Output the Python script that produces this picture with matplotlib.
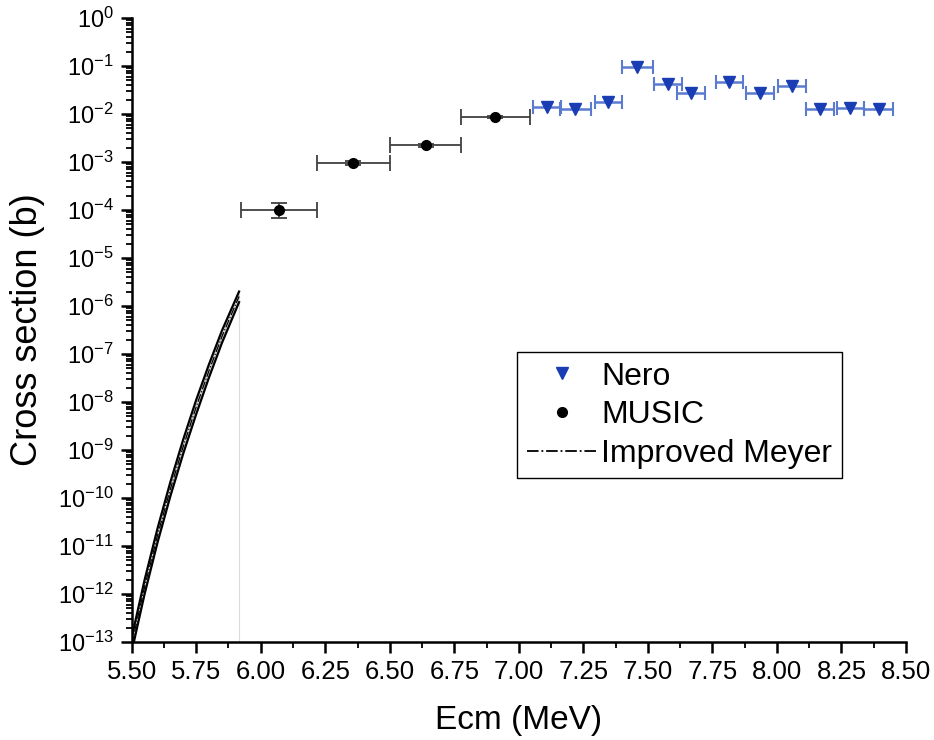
import matplotlib
matplotlib.use("Agg")
import matplotlib.pyplot as plt
from matplotlib.lines import Line2D
from matplotlib.ticker import LogLocator, MultipleLocator, FixedLocator, NullFormatter, LogFormatterMathtext

plt.rcParams['font.family'] = ['Liberation Sans', 'DejaVu Sans']
plt.rcParams['mathtext.fontset'] = 'custom'
plt.rcParams['mathtext.rm'] = 'Liberation Sans'
plt.rcParams['mathtext.it'] = 'Liberation Sans:italic'
plt.rcParams['mathtext.bf'] = 'Liberation Sans:bold'

# Nero measurements (down triangles)
nero_e = [7.108, 7.218, 7.347, 7.459, 7.578, 7.667, 7.816, 7.935, 8.058, 8.168, 8.284, 8.394]
nero_ex = [0.055, 0.060, 0.052, 0.060, 0.055, 0.055, 0.051, 0.054, 0.053, 0.055, 0.052, 0.056]
nero_sigma = [0.0141, 0.0126, 0.0180, 0.093, 0.0416, 0.0270, 0.047, 0.0270, 0.039, 0.0126, 0.0131, 0.0126]

# MUSIC measurements (circles)
music_e = [6.071, 6.359, 6.639, 6.908]
music_ex = [0.147, 0.141, 0.137, 0.134]
music_sigma = [1.0e-4, 9.5e-4, 2.24e-3, 8.5e-3]
music_err_lo = [3.2e-5, 1.0e-4, 1.5e-4, 4.0e-4]
music_err_hi = [4.0e-5, 1.0e-4, 1.5e-4, 4.0e-4]

# Improved Meyer calculation with its uncertainty band
meyer_e = [5.50, 5.55, 5.60, 5.65, 5.70, 5.75, 5.80, 5.85, 5.916]
meyer_sigma = [8.9e-14, 1.41e-12, 1.66e-11, 1.55e-10, 1.20e-9, 7.94e-9, 4.57e-8, 2.34e-7, 1.58e-6]
meyer_upper = [1.25e-13, 1.97e-12, 2.32e-11, 2.17e-10, 1.68e-9, 1.11e-8, 6.2e-8, 3.1e-7, 2.0e-6]
meyer_lower = [6.3e-14, 1.00e-12, 1.18e-11, 1.10e-10, 8.5e-10, 5.6e-9, 3.3e-8, 1.72e-7, 1.2e-6]

x_ticks = [5.50, 5.75, 6.00, 6.25, 6.50, 6.75, 7.00, 7.25, 7.50, 7.75, 8.00, 8.25, 8.50]
x_tick_labels = ["5.50", "5.75", "6.00", "6.25", "6.50", "6.75", "7.00", "7.25",
                 "7.50", "7.75", "8.00", "8.25", "8.50"]

nero_color = '#1a3db3'
nero_err_color = '#5a7bd0'

fig = plt.figure(figsize=(9.34, 7.40), dpi=100)
ax = fig.add_axes([0.141, 0.1324, 0.829, 0.8433])

# drop line marking the end of the calculation
ax.plot([meyer_e[-1], meyer_e[-1]], [1e-13, meyer_upper[-1]], color='#dcdcdc', lw=0.8, zorder=1)

ax.fill_between(meyer_e, meyer_lower, meyer_upper, color='#d4d4d4', lw=0, zorder=2)
ax.plot(meyer_e, meyer_upper, color='black', lw=1.6, zorder=3)
ax.plot(meyer_e, meyer_lower, color='black', lw=1.6, zorder=3)
ax.plot(meyer_e, meyer_sigma, color='black', lw=0.9, ls='-.', zorder=4)

ax.errorbar(nero_e, nero_sigma, xerr=nero_ex, fmt='v', color=nero_color, ms=8,
            ecolor=nero_err_color, elinewidth=1.8, capsize=5, capthick=1.5, zorder=5)
ax.errorbar(music_e, music_sigma, xerr=music_ex, yerr=[music_err_lo, music_err_hi], fmt='o',
            color='black', ms=7, ecolor='#404040', elinewidth=1.3, capsize=5.5, capthick=1.3,
            zorder=5)

ax.set_yscale('log')
ax.set_xlim(5.5, 8.5)
ax.set_ylim(1e-13, 1.0)

ax.xaxis.set_major_locator(FixedLocator(x_ticks))
ax.set_xticklabels(x_tick_labels)
ax.xaxis.set_minor_locator(MultipleLocator(0.125))
ax.yaxis.set_major_locator(LogLocator(base=10, numticks=20))
ax.yaxis.set_major_formatter(LogFormatterMathtext())
ax.yaxis.set_minor_locator(LogLocator(base=10, subs=range(2, 10), numticks=200))
ax.yaxis.set_minor_formatter(NullFormatter())

for s in ['top', 'right']:
    ax.spines[s].set_visible(False)
for s in ['left', 'bottom']:
    ax.spines[s].set_linewidth(1.8)

ax.tick_params(which='major', direction='out', length=8, width=1.8, pad=5)
ax.tick_params(axis='x', which='major', labelsize=18.5)
ax.tick_params(axis='y', which='major', labelsize=17)
ax.tick_params(which='minor', direction='out', length=4, width=1.3)

ax.set_xlabel('Ecm (MeV)', fontsize=24, labelpad=15)
ax.set_ylabel('Cross section (b)', fontsize=26, labelpad=9)

legend_handles = [
    Line2D([], [], ls='none', marker='v', color=nero_color, ms=8),
    Line2D([], [], ls='none', marker='o', color='black', ms=7),
    Line2D([], [], ls='-.', color='black', lw=1.3),
]
legend_labels = ['Nero', 'MUSIC', 'Improved Meyer']
leg = ax.legend(legend_handles, legend_labels,
                loc='upper left', bbox_to_anchor=(0.4976, 0.4647), fontsize=23,
                frameon=True, fancybox=False, edgecolor='black', framealpha=1,
                handlelength=2.25, handletextpad=0.08, borderpad=0.3, labelspacing=0.27,
                borderaxespad=0)
leg.get_frame().set_linewidth(1.0)

fig.savefig('out.png', dpi=100)
